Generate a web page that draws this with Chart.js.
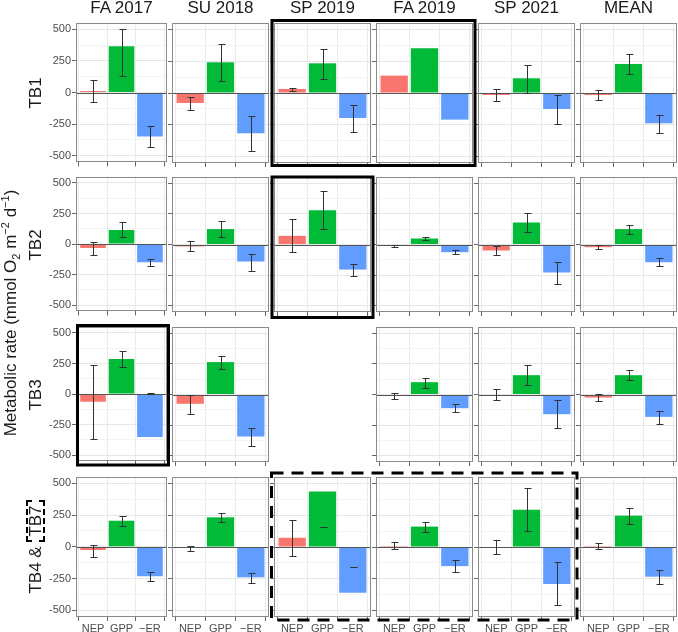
<!DOCTYPE html>
<html><head><meta charset="utf-8">
<script src="https://cdn.jsdelivr.net/npm/chart.js@4"></script>
<style>
html,body{margin:0;padding:0;background:#fff;}
body{width:678px;height:632px;position:relative;overflow:hidden;font-family:"Liberation Sans",Arial,sans-serif;}
.strip{position:absolute;font-size:17px;line-height:20px;color:#1a1a1a;text-align:center;white-space:nowrap;}
.rot{position:absolute;font-size:17px;line-height:20px;height:20px;color:#1a1a1a;text-align:center;white-space:nowrap;transform:rotate(-90deg);}
.rot sub,.rot sup{font-size:11px;line-height:0;}
.tb7{display:inline-block;border:2px dashed #000;padding:0 3px;line-height:15px;}
canvas{position:absolute;}
svg{position:absolute;left:0;top:0;}
</style></head><body>
<script>
// ---------- data ----------
const columns = ['FA 2017','SU 2018','SP 2019','FA 2019','SP 2021','MEAN'];
const rowNames = ['TB1','TB2','TB3','TB4 & TB7'];
const metrics = ['NEP','GPP','\u2212ER'];
const yTickValues = [-500,-375,-250,-125,0,125,250,375,500];
const yMajorStep = 250;

const tb1Values = [[12,365,-347],[-79,242,-318],[32,234,-197],[137,352,-210],[-16,116,-126],[-16,229,-239]];
const tb1Low    = [[-74,131,-431],[-131,95,-458],[18,110,-308],null,[-60,0,-245],[-53,153,-313]];
const tb1High   = [[100,500,-268],[-32,387,-184],[42,347,-92],null,[32,224,-13],[24,305,-174]];

const tb2Values = [[-33,115,-150],[-16,126,-139],[71,281,-205],[-11,49,-63],[-49,180,-229],[-22,126,-145]];
const tb2Low    = [[-90,57,-183],[-57,60,-218],[-63,123,-259],[-22,38,-79],[-87,101,-319],[-38,87,-177]];
const tb2High   = [[19,180,-120],[25,191,-74],[207,437,-161],[0,63,-49],[-16,257,-142],[0,158,-112]];

const tb3Values = [[-63,287,-352],[-76,265,-344],null,[-8,101,-112],[0,158,-161],[-25,158,-183]];
const tb3Low    = [[-369,224,-3],[-158,210,-418],null,[-35,57,-147],[-49,76,-273],[-52,117,-240]];
const tb3High   = [[235,349,5],[0,314,-273],null,[14,139,-79],[41,238,-49],[3,197,-131]];

const tb4Values = [[-26,205,-231],[-5,234,-239],[73,437,-361],[8,161,-151],[0,294,-291],[8,247,-234]];
const tb4Low    = [[-81,161,-270],[-29,198,-281],[-68,158,-157],[-18,122,-198],[-52,127,-460],[-18,185,-291]];
const tb4High   = [[18,239,-198],[10,268,-208],[216,158,-157],[36,200,-101],[55,463,-122],[34,307,-179]];

const allValues = [tb1Values,tb2Values,tb3Values,tb4Values];
const allLow = [tb1Low,tb2Low,tb3Low,tb4Low];
const allHigh = [tb1High,tb2High,tb3High,tb4High];

// ---------- layout / style ----------
const barColors = ['#F8766D','#00BA38','#619CFF'];
const FONT = '"Liberation Sans", Arial, sans-serif';
const colLeft  = [76,172,274,376,478,580];
const colRight = [167,269,371,473,575,677];
const rowTop    = [23,177,327,477];
const rowBottom = [163,312,462,617];

function decorPlugin(low, high){
  return {
    id:'decor',
    afterDatasetsDraw(chart){
      const {ctx, chartArea:a, scales:{x,y}} = chart;
      ctx.save();
      ctx.lineWidth = 1;
      ctx.strokeStyle = '#555';
      const y0 = Math.round(y.getPixelForValue(0)) + 0.5;
      ctx.beginPath(); ctx.moveTo(a.left, y0); ctx.lineTo(a.right, y0); ctx.stroke();
      if (low && high){
        ctx.strokeStyle = '#333';
        for (let i=0;i<low.length;i++){
          const xp = Math.round(x.getPixelForValue(i+1)) + 0.5;
          const yl = Math.round(y.getPixelForValue(low[i])) + 0.5;
          const yh = Math.round(y.getPixelForValue(high[i])) + 0.5;
          ctx.beginPath();
          ctx.moveTo(xp, yl); ctx.lineTo(xp, yh);
          ctx.moveTo(xp-3, yl); ctx.lineTo(xp+4, yl);
          ctx.moveTo(xp-3, yh); ctx.lineTo(xp+4, yh);
          ctx.stroke();
        }
      }
      ctx.restore();
    },
    afterDraw(chart){
      const {ctx, chartArea:a} = chart;
      ctx.save();
      ctx.strokeStyle = '#8a8a8a';
      ctx.lineWidth = 1;
      const l = Math.round(a.left)+0.5, t = Math.round(a.top)+0.5;
      const r = Math.round(a.right)-0.5, b = Math.round(a.bottom)-0.5;
      ctx.strokeRect(l, t, r-l, b-t);
      ctx.restore();
    }
  };
}

function makeConfig(r, c){
  const vals = allValues[r][c], low = allLow[r][c], high = allHigh[r][c];
  return {
    type:'bar',
    data:{datasets:[{
      data: vals.map((v,i)=>({x:i+1, y:v})),
      backgroundColor: barColors,
      borderWidth:0,
      barPercentage:0.9,
      categoryPercentage:1
    }]},
    options:{
      responsive:false, animation:false, devicePixelRatio:1, events:[],
      layout:{padding:0},
      plugins:{legend:{display:false}, tooltip:{enabled:false}, title:{display:false}},
      scales:{
        x:{
          type:'linear', min:0.4, max:3.6, offset:false,
          afterBuildTicks: s => { s.ticks = metrics.map((m,i)=>({value:i+1})); },
          afterFit: s => { s.height = (r===3) ? 19 : 4; },
          ticks:{display: r===3, autoSkip:false, maxRotation:0, padding:1,
                 callback: v => metrics[Math.round(v)-1],
                 font:{size:11, family:FONT}, color:'#4d4d4d'},
          grid:{color:'#ebebeb', lineWidth:1, drawTicks:true, tickLength:4, tickColor:'#666'},
          border:{display:false}
        },
        y:{
          type:'linear', min:-552, max:552,
          afterBuildTicks: s => { s.ticks = yTickValues.map(v=>({value:v})); },
          afterFit: s => { s.width = (c===0) ? 50 : 4; },
          ticks:{display: c===0, autoSkip:false, padding:1,
                 callback: v => (v % yMajorStep === 0) ? String(v) : '',
                 font:{size:11, family:FONT}, color:'#4d4d4d'},
          grid:{
            color: ctx => (ctx.tick && ctx.tick.value % yMajorStep === 0) ? '#e6e6e6' : '#f3f3f3',
            lineWidth:1, drawTicks:true, tickLength:4,
            tickColor: ctx => (ctx.tick && ctx.tick.value % yMajorStep === 0) ? '#666' : 'rgba(0,0,0,0)'
          },
          border:{display:false}
        }
      }
    },
    plugins:[decorPlugin(low, high)]
  };
}

function createChart(r, c, cw, ch){
  const cv = document.createElement('canvas');
  cv.width = cw; cv.height = ch;
  cv.style.width = cw+'px'; cv.style.height = ch+'px';
  cv.style.left = '0px'; cv.style.top = '0px';
  document.body.appendChild(cv);
  const chart = new Chart(cv, makeConfig(r, c));
  return {cv, chart};
}

for (let r=0;r<4;r++){
  for (let c=0;c<6;c++){
    if (!allValues[r][c]) continue;
    const W = colRight[c]-colLeft[c], H = rowBottom[r]-rowTop[r];
    let cw = W + (c===0?50:4), ch = H + (r===3?19:4) + (c===0?16:0);
    let obj = createChart(r,c,cw,ch);
    for (let k=0;k<2;k++){
      const a = obj.chart.chartArea;
      const aw = a.right-a.left, ah = a.bottom-a.top;
      const ncw = Math.round(cw + (W-aw)), nch = Math.round(ch + (H-ah));
      if (ncw===cw && nch===ch) break;
      obj.chart.destroy(); obj.cv.remove();
      cw = ncw; ch = nch;
      obj = createChart(r,c,cw,ch);
    }
    const a = obj.chart.chartArea;
    obj.cv.style.left = (colLeft[c]-Math.round(a.left))+'px';
    obj.cv.style.top = (rowTop[r]-Math.round(a.top))+'px';
  }
}

// strips (column headers)
columns.forEach((name,c)=>{
  const d = document.createElement('div');
  d.className='strip';
  const cx = (colLeft[c]+colRight[c])/2;
  d.style.left=(cx-60)+'px'; d.style.width='120px'; d.style.top='-2px';
  d.textContent = name;
  document.body.appendChild(d);
});
// row labels
rowNames.forEach((name,r)=>{
  const d = document.createElement('div');
  d.className='rot';
  const cy = (rowTop[r]+rowBottom[r])/2;
  const w = 140;
  d.style.left=(36-w/2)+'px'; d.style.width=w+'px'; d.style.top=(cy-10)+'px';
  if (r===3){
    d.innerHTML = 'TB4 &amp; <span class="tb7">TB7</span>';
  } else d.textContent = name;
  document.body.appendChild(d);
});
// y-axis title
{
  const d = document.createElement('div');
  d.className='rot';
  const w = 320, cy = 313;
  d.style.left=(11-w/2)+'px'; d.style.width=w+'px'; d.style.top=(cy-10)+'px';
  d.innerHTML = 'Metabolic rate (mmol O<sub>2</sub> m<sup>\u22122</sup> d<sup>\u22121</sup>)';
  document.body.appendChild(d);
}
// highlight boxes
{
  const ns='http://www.w3.org/2000/svg';
  const svg=document.createElementNS(ns,'svg');
  svg.setAttribute('width','678'); svg.setAttribute('height','632');
  const boxes=[
    {x:272,y:20.5,w:203,h:145,dash:null},
    {x:272,y:177,w:101,h:140.5,dash:null},
    {x:77.5,y:325.5,w:91,h:139.5,dash:null},
    {x:271.5,y:473,w:305.5,h:147,dash:'12 8'}
  ];
  boxes.forEach(b=>{
    const rc=document.createElementNS(ns,'rect');
    rc.setAttribute('x',b.x); rc.setAttribute('y',b.y);
    rc.setAttribute('width',b.w); rc.setAttribute('height',b.h);
    rc.setAttribute('fill','none'); rc.setAttribute('stroke','#000');
    rc.setAttribute('stroke-width','3');
    if(b.dash) rc.setAttribute('stroke-dasharray',b.dash);
    svg.appendChild(rc);
  });
  document.body.appendChild(svg);
}
</script>
</body></html>
